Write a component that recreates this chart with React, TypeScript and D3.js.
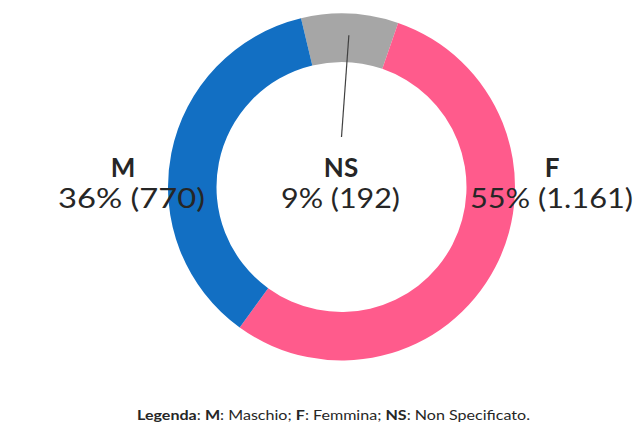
import React, { useEffect, useRef } from 'react';
import * as d3 from 'd3';

// values
const categories = ['NS', 'F', 'M'];
const counts = [192, 1161, 770];
const percentLabels = ['9% (192)', '55% (1.161)', '36% (770)'];
const colors = ['#a6a6a6', '#ff5b8c', '#126fc3'];
const legendParts = [
  { text: 'Legenda', bold: true }, { text: ': ', bold: false },
  { text: 'M', bold: true }, { text: ': Maschio; ', bold: false },
  { text: 'F', bold: true }, { text: ': Femmina; ', bold: false },
  { text: 'NS', bold: true }, { text: ': Non Specificato.', bold: false },
];

const App = () => {
  const ref = useRef<SVGSVGElement>(null);

  useEffect(() => {
    const width = 641;
    const height = 435;
    const cx = 341.5;
    const cy = 187;
    const outer = 173.5;
    const inner = 125;
    const font = 'Lato, "Open Sans", sans-serif';

    const svg = d3.select(ref.current)
      .attr('width', width)
      .attr('height', height);
    svg.selectAll('*').remove();

    const start = (-13.5 * Math.PI) / 180;
    const pie = d3.pie<number>()
      .sort(null)
      .startAngle(start)
      .endAngle(start + 2 * Math.PI);
    const arcs = pie(counts);
    const arc = d3.arc<d3.PieArcDatum<number>>()
      .innerRadius(inner)
      .outerRadius(outer);

    const g = svg.append('g').attr('transform', `translate(${cx},${cy})`);
    g.selectAll('path')
      .data(arcs)
      .join('path')
      .attr('d', arc)
      .attr('fill', (d, i) => colors[i]);

    // leader line from the NS slice to its label
    const ns = arcs[0];
    const mid = (ns.startAngle + ns.endAngle) / 2;
    const r0 = 152;
    g.append('line')
      .attr('x1', r0 * Math.sin(mid))
      .attr('y1', -r0 * Math.cos(mid))
      .attr('x2', 0)
      .attr('y2', -50)
      .attr('stroke', '#404040')
      .attr('stroke-width', 1.2);

    // labels: NS centre, F right, M left
    const nameX = [341, 552, 123];
    const pctX = [340.5, 551.5, 131.5];
    const pctWidth = [119, 163, 147];
    categories.forEach((c, i) => {
      svg.append('text')
        .attr('x', nameX[i])
        .attr('y', 177)
        .attr('text-anchor', 'middle')
        .attr('font-family', font)
        .attr('font-weight', 700)
        .attr('font-size', 26)
        .attr('fill', '#262626')
        .text(c);
      svg.append('text')
        .attr('x', pctX[i])
        .attr('y', 208)
        .attr('text-anchor', 'middle')
        .attr('font-family', font)
        .attr('font-size', 27)
        .attr('textLength', pctWidth[i])
        .attr('lengthAdjust', 'spacingAndGlyphs')
        .attr('fill', '#262626')
        .text(percentLabels[i]);
    });

    const legend = svg.append('text')
      .attr('x', 333.5)
      .attr('y', 420)
      .attr('text-anchor', 'middle')
      .attr('font-family', font)
      .attr('font-size', 14)
      .attr('textLength', 393)
      .attr('lengthAdjust', 'spacingAndGlyphs')
      .attr('fill', '#262626');
    legend.selectAll('tspan')
      .data(legendParts)
      .join('tspan')
      .attr('font-weight', d => (d.bold ? 700 : 400))
      .style('white-space', 'pre')
      .text(d => d.text);
  }, []);

  return (
    <svg ref={ref} style={{ position: 'absolute', left: 0, top: 0, background: '#fff' }}></svg>
  );
};

export default App;
